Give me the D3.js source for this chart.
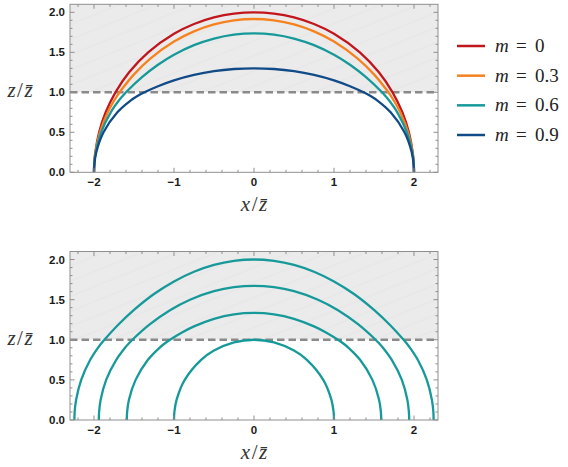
<!DOCTYPE html>
<html><head><meta charset="utf-8">
<script src="https://cdn.jsdelivr.net/npm/d3@7"></script>
<style>body{margin:0;background:#fff} svg{display:block}</style>
</head><body><svg id="c" width="568" height="467"></svg>
<script>
// ---- data ----
const xTicks = [-2, -1, 0, 1, 2];
const yTicks = [0, 0.5, 1, 1.5, 2];
const xDomain = [-2.3, 2.3];
const yDomain = [0, 2.1];
const zBar = 1;
const mLabels = ["0", "0.3", "0.6", "0.9"];

// top panel: curves for m = 0, 0.3, 0.6, 0.9  ([x/zbar, z/zbar])
const curveM0 = [[-2,0],[-1.9975,0.1],[-1.984,0.25],[-1.936,0.5],[-1.854,0.75],[-1.732,1],[-1.561,1.25],[-1.323,1.5],[-1,1.732],[-0.75,1.854],[-0.5,1.936],[-0.25,1.984],[0,2],[0.25,1.984],[0.5,1.936],[0.75,1.854],[1,1.732],[1.323,1.5],[1.561,1.25],[1.732,1],[1.854,0.75],[1.936,0.5],[1.984,0.25],[1.9975,0.1],[2,0]];
const curveM03 = [[-2,0],[-1.997,0.1],[-1.982,0.25],[-1.926,0.5],[-1.828,0.75],[-1.746,0.9],[-1.714,0.95],[-1.68,1],[-1.5,1.224],[-1.3,1.419],[-1,1.635],[-0.75,1.762],[-0.5,1.849],[-0.25,1.899],[0,1.916],[0.25,1.899],[0.5,1.849],[0.75,1.762],[1,1.635],[1.3,1.419],[1.5,1.224],[1.68,1],[1.714,0.95],[1.746,0.9],[1.828,0.75],[1.926,0.5],[1.982,0.25],[1.997,0.1],[2,0]];
const curveM06 = [[-2,0],[-1.997,0.1],[-1.978,0.25],[-1.911,0.5],[-1.791,0.75],[-1.687,0.9],[-1.645,0.95],[-1.6,1],[-1.4,1.189],[-1.2,1.344],[-1,1.469],[-0.75,1.589],[-0.5,1.672],[-0.25,1.721],[0,1.737],[0.25,1.721],[0.5,1.672],[0.75,1.589],[1,1.469],[1.2,1.344],[1.4,1.189],[1.6,1],[1.645,0.95],[1.687,0.9],[1.791,0.75],[1.911,0.5],[1.978,0.25],[1.997,0.1],[2,0]];
const curveM09 = [[-2,0],[-1.9955,0.1],[-1.9715,0.25],[-1.881,0.5],[-1.708,0.75],[-1.539,0.9],[-1.463,0.95],[-1.37,1],[-1.2,1.076],[-1,1.149],[-0.75,1.217],[-0.5,1.264],[-0.25,1.291],[0,1.3],[0.25,1.291],[0.5,1.264],[0.75,1.217],[1,1.149],[1.2,1.076],[1.37,1],[1.463,0.95],[1.539,0.9],[1.708,0.75],[1.881,0.5],[1.9715,0.25],[1.9955,0.1],[2,0]];

// bottom panel: m = 0.6, four interval widths
const curveW1 = [[-1,0],[-0.995,0.1],[-0.968,0.25],[-0.866,0.5],[-0.661,0.75],[-0.5,0.866],[-0.25,0.968],[0,1],[0.25,0.968],[0.5,0.866],[0.661,0.75],[0.866,0.5],[0.968,0.25],[0.995,0.1],[1,0]];
const curveW2 = [[-1.59,0],[-1.586,0.1],[-1.564,0.25],[-1.48,0.5],[-1.326,0.75],[-1.182,0.9],[-1.121,0.95],[-1.05,1],[-0.9,1.091],[-0.75,1.167],[-0.5,1.261],[-0.25,1.317],[0,1.335],[0.25,1.317],[0.5,1.261],[0.75,1.167],[0.9,1.091],[1.05,1],[1.121,0.95],[1.182,0.9],[1.326,0.75],[1.48,0.5],[1.564,0.25],[1.586,0.1],[1.59,0]];
const curveW3 = [[-1.94,0],[-1.936,0.1],[-1.9175,0.25],[-1.848,0.5],[-1.722,0.75],[-1.6125,0.9],[-1.5685,0.95],[-1.52,1],[-1.3,1.194],[-1.05,1.368],[-0.8,1.499],[-0.5,1.605],[-0.25,1.655],[0,1.672],[0.25,1.655],[0.5,1.605],[0.8,1.499],[1.05,1.368],[1.3,1.194],[1.52,1],[1.5685,0.95],[1.6125,0.9],[1.722,0.75],[1.848,0.5],[1.9175,0.25],[1.936,0.1],[1.94,0]];
const curveW4 = [[-2.245,0],[-2.242,0.1],[-2.224,0.25],[-2.16,0.5],[-2.047,0.75],[-1.95,0.9],[-1.912,0.95],[-1.87,1],[-1.7,1.184],[-1.5,1.372],[-1.25,1.57],[-1,1.727],[-0.75,1.848],[-0.5,1.933],[-0.25,1.983],[0,2],[0.25,1.983],[0.5,1.933],[0.75,1.848],[1,1.727],[1.25,1.57],[1.5,1.372],[1.7,1.184],[1.87,1],[1.912,0.95],[1.95,0.9],[2.047,0.75],[2.16,0.5],[2.224,0.25],[2.242,0.1],[2.245,0]];

const topCurves = [curveM0, curveM03, curveM06, curveM09];
const bottomCurves = [curveW1, curveW2, curveW3, curveW4];
const colors = ["#C0161C", "#F5821F", "#17999A", "#114B87"];
const teal = "#17999A";

// ---- drawing ----
const svg = d3.select("#c");
const defs = svg.append("defs");
const pat = defs.append("pattern").attr("id","hatch").attr("patternUnits","userSpaceOnUse")
  .attr("width",14).attr("height",14).attr("patternTransform","rotate(-22)");
pat.append("rect").attr("width",14).attr("height",14).attr("fill","#ebebeb");
pat.append("line").attr("x1",0).attr("x2",14).attr("y1",7).attr("y2",7)
  .attr("stroke","#e2e2e2").attr("stroke-width",0.7);

const left = 70, right = 438;
const x = d3.scaleLinear().domain(xDomain).range([left, right]);
const frameCol = "#8f8f8f";
const tickFont = "'Liberation Sans', Arial, sans-serif";
const mathFont = "'Liberation Serif', 'DejaVu Serif', serif";

function fmtY(v){ return v.toFixed(1); }
function fmtX(v){ return v < 0 ? "\u2212" + Math.abs(v) : String(v); }

function panel(id, top, bottom, curves, cols){
  const y = d3.scaleLinear().domain(yDomain).range([bottom, top]);
  const g = svg.append("g");
  defs.append("clipPath").attr("id","clip"+id).append("rect")
    .attr("x",left).attr("y",top).attr("width",right-left).attr("height",bottom-top);

  // shaded region z > zbar
  g.append("rect").attr("x",left).attr("width",right-left)
    .attr("y",y(yDomain[1])).attr("height",y(zBar)-y(yDomain[1]))
    .attr("fill","url(#hatch)");

  // dashed line z = zbar
  g.append("line").attr("x1",left).attr("x2",right).attr("y1",y(zBar)).attr("y2",y(zBar))
    .attr("stroke","#8a8a8a").attr("stroke-width",2.4).attr("stroke-dasharray","7.5,4");

  // curves
  const line = d3.line().x(d=>x(d[0])).y(d=>y(d[1])).curve(d3.curveCatmullRom.alpha(0.5));
  const cg = g.append("g").attr("clip-path","url(#clip"+id+")");
  curves.forEach((c,i)=>{
    cg.append("path").attr("d", line(c)).attr("fill","none")
      .attr("stroke", cols[i]).attr("stroke-width",2.3).attr("stroke-linejoin","round");
  });

  // frame
  g.append("rect").attr("x",left).attr("y",top).attr("width",right-left).attr("height",bottom-top)
    .attr("fill","none").attr("stroke",frameCol).attr("stroke-width",1);

  // ticks
  const xMinor = d3.range(-22, 23, 2).map(v=>v/10).filter(v=>!xTicks.includes(v));
  const yMinor = d3.range(1, 21, 1).map(v=>v/10).filter(v=>!yTicks.some(t=>Math.abs(t-v)<1e-9));
  const tk = g.append("g").attr("stroke",frameCol).attr("stroke-width",1);
  xTicks.forEach(v=>{
    tk.append("line").attr("x1",x(v)).attr("x2",x(v)).attr("y1",bottom).attr("y2",bottom-4.5);
    tk.append("line").attr("x1",x(v)).attr("x2",x(v)).attr("y1",top).attr("y2",top+4.5);
  });
  xMinor.forEach(v=>{
    tk.append("line").attr("x1",x(v)).attr("x2",x(v)).attr("y1",bottom).attr("y2",bottom-2.5);
    tk.append("line").attr("x1",x(v)).attr("x2",x(v)).attr("y1",top).attr("y2",top+2.5);
  });
  yTicks.forEach(v=>{
    tk.append("line").attr("y1",y(v)).attr("y2",y(v)).attr("x1",left).attr("x2",left+4.5);
    tk.append("line").attr("y1",y(v)).attr("y2",y(v)).attr("x1",right).attr("x2",right-4.5);
  });
  yMinor.forEach(v=>{
    tk.append("line").attr("y1",y(v)).attr("y2",y(v)).attr("x1",left).attr("x2",left+2.5);
    tk.append("line").attr("y1",y(v)).attr("y2",y(v)).attr("x1",right).attr("x2",right-2.5);
  });

  // tick labels
  xTicks.forEach(v=>{
    g.append("text").attr("x",x(v)).attr("y",bottom+14).attr("text-anchor","middle")
      .attr("font-family",tickFont).attr("font-weight","bold").attr("font-size",11.5)
      .attr("fill","#1a1a1a").text(fmtX(v));
  });
  yTicks.forEach(v=>{
    g.append("text").attr("x",left-5).attr("y",y(v)+4).attr("text-anchor","end")
      .attr("font-family",tickFont).attr("font-weight","bold").attr("font-size",11.5)
      .attr("fill","#1a1a1a").text(fmtY(v));
  });

  // axis labels
  const xl = g.append("text").attr("x",x(0)).attr("y",bottom+39).attr("text-anchor","middle")
    .attr("font-family",mathFont).attr("font-size",21).attr("fill","#333");
  xl.append("tspan").attr("font-style","italic").text("x");
  xl.append("tspan").attr("dx",1.5).text("/");
  xl.append("tspan").attr("dx",1.5).attr("font-style","italic").text("z\u0304");

  const yl = g.append("text").attr("x",20).attr("y",(top+bottom)/2+9).attr("text-anchor","middle")
    .attr("font-family",mathFont).attr("font-size",21).attr("fill","#333");
  yl.append("tspan").attr("font-style","italic").text("z");
  yl.append("tspan").attr("dx",1.5).text("/");
  yl.append("tspan").attr("dx",1.5).attr("font-style","italic").text("z\u0304");
}

panel("T", 4.3, 172.3, topCurves, colors);
panel("B", 251.5, 420, bottomCurves, bottomCurves.map(()=>teal));

// legend
const ly = d3.scalePoint().domain(mLabels).range([46, 135]);
const lg = svg.append("g");
mLabels.forEach((m,i)=>{
  lg.append("line").attr("x1",457).attr("x2",485).attr("y1",ly(m)).attr("y2",ly(m))
    .attr("stroke",colors[i]).attr("stroke-width",2.5);
  const t = lg.append("text").attr("y",ly(m)+6).attr("font-family",mathFont)
    .attr("font-size",19).attr("fill","#222");
  t.append("tspan").attr("x",495).attr("font-style","italic").text("m");
  t.append("tspan").attr("x",516).text("=");
  t.append("tspan").attr("x",535).text(m);
});
</script>
</body></html>
